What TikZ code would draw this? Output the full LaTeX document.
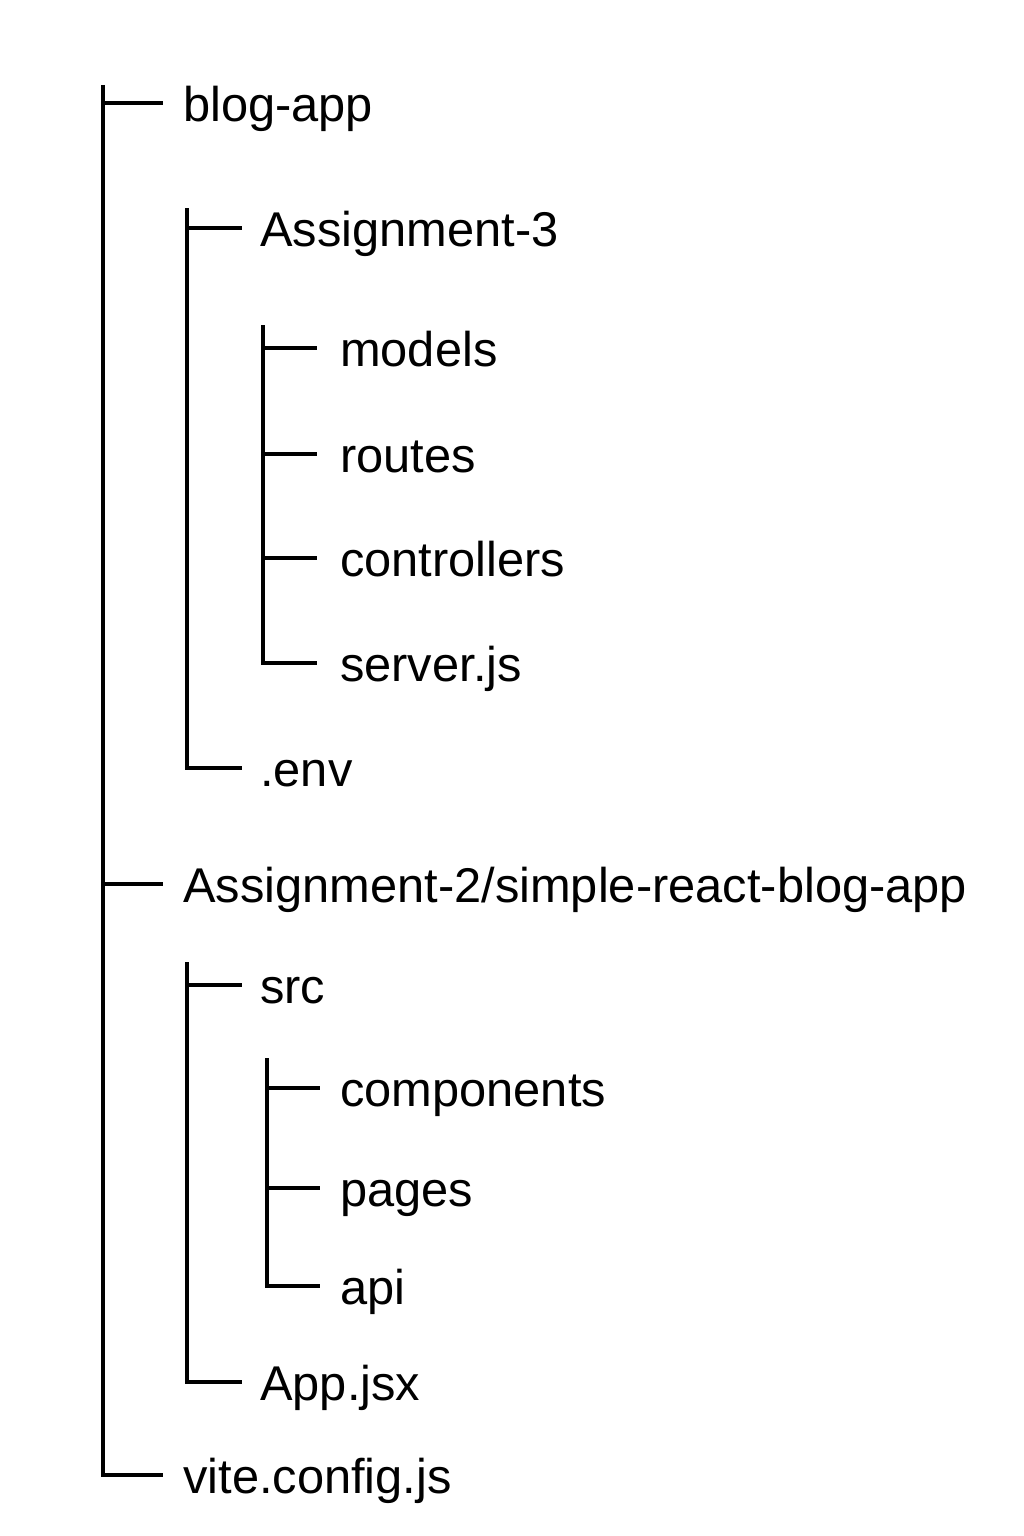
\documentclass[tikz,border=0pt]{standalone}
\usepackage{fontspec}
\setmainfont{Liberation Sans}
\usetikzlibrary{positioning}

\tikzset{
    tree/.style={line width=3.3pt, line cap=butt, line join=miter},
    item/.style={anchor=west, inner sep=0pt, text height=41pt, text depth=4pt,
        font=\fontsize{48.8}{52}\selectfont}
}

\begin{document}
\begin{tikzpicture}[x=1pt, y=-1pt]
    % the frame
    \useasboundingbox (0,0) rectangle (1024,1536);

    % tops of the vertical lines
    \coordinate (t0) at (103,85);
    \coordinate (t1) at (187,208);
    \coordinate (t2) at (263,325);
    \coordinate (t3) at (187,962);
    \coordinate (t4) at (267,1058);

    % level 1
    \node[item] (blog) at (183,103) {blog-app};
    \node[item] (asgtwo) at (183,884) {Assignment-2/simple-react-blog-app};
    \node[item] (vite) at (183,1475) {vite.config.js};

    % level 2
    \node[item] (asgthree) at (260,228) {Assignment-3};
    \node[item] (env) at (260,768) {.env};
    \node[item] (src) at (260,985) {src};
    \node[item] (app) at (260,1382) {App.jsx};

    % level 3
    \node[item] (models) at (340,348) {models};
    \node[item] (routes) at (340,454) {routes};
    \node[item] (ctrl) at (340,558) {controllers};
    \node[item] (server) at (340,663) {server.js};
    \node[item] (comp) at (340,1088) {components};
    \node[item] (pages) at (340,1188) {pages};
    \node[item] (api) at (340,1286) {api};

    % the spines, each ending in its last branch
    \draw[tree] (t0) |- ([xshift=-20pt]vite.west);
    \draw[tree] (t1) |- ([xshift=-18pt]env.west);
    \draw[tree] (t2) |- ([xshift=-23pt]server.west);
    \draw[tree] (t3) |- ([xshift=-18pt]app.west);
    \draw[tree] (t4) |- ([xshift=-20pt]api.west);

    % the other branches
    \foreach \n in {blog, asgtwo}
        \draw[tree] (t0 |- \n.west) -- ([xshift=-20pt]\n.west);
    \draw[tree] (t1 |- asgthree.west) -- ([xshift=-18pt]asgthree.west);
    \draw[tree] (t3 |- src.west) -- ([xshift=-18pt]src.west);
    \foreach \n in {models, routes, ctrl}
        \draw[tree] (t2 |- \n.west) -- ([xshift=-23pt]\n.west);
    \foreach \n in {comp, pages}
        \draw[tree] (t4 |- \n.west) -- ([xshift=-20pt]\n.west);
\end{tikzpicture}
\end{document}
